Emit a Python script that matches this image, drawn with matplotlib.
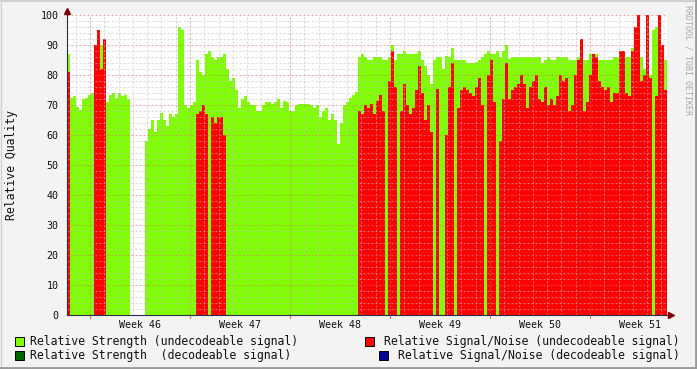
import numpy as np
import matplotlib
matplotlib.use('Agg')
import matplotlib.pyplot as plt
from matplotlib.patches import Rectangle
from matplotlib.lines import Line2D

nan = np.nan

# one sample per 3 px of the original graph, starting Saturday before week 46
strength_undecodeable = [
    87, 72.5, 73, 69.5, 68.5, 72, 72.5, 73.5, 74, 73,
    81, 90, 66, 71, 73.5, 74, 72.5, 74, 73, 73.5,
    72, nan, nan, nan, nan, nan, 58, 62, 65, 61,
    65, 67.5, 65, 63, 67, 66, 67, 96, 95, 70,
    69, 70, 71, 85, 81, 80, 87, 88, 86, 85,
    86, 86, 87, 82, 78, 79, 75, 69, 72, 73,
    71, 70, 70, 68, 68, 70, 71, 71, 70.5, 71,
    72, 69, 71.5, 71, 68, 68, 70, 70.5, 70.5, 70.5,
    70.5, 70, 69, 70, 66, 68, 69, 65, 67, 65,
    57, 64, 70, 71, 72.5, 73.5, 74.5, 86, 87, 86,
    85, 85, 86, 86, 86, 85, 85, 86, 90, 85,
    87, 87, 88, 87, 87, 87, 87, 88, 85, 83,
    80, 77, 85, 86, 86, 82, 86.5, 86, 89, 85,
    85, 85, 85, 84, 84, 84, 84.5, 85, 86, 87,
    88, 87, 87, 88, 86, 88, 90, 85.5, 86, 86,
    86, 86, 86, 86, 86, 86, 86, 86, 84, 85,
    86, 85, 85, 86, 86, 86, 86, 85, 85, 85,
    86, 86, 85, 85, 87, 87, 87, 85, 85, 85,
    85, 85, 86, 86, 87, 88, 86, 86, 89, 86,
    86, 86, 82, 80, 80, 95, 96, 81, 85, 85,
]

snr_undecodeable = [
    81, nan, nan, nan, nan, nan, nan, nan, nan, 90,
    95, 82, 92, nan, nan, nan, nan, nan, nan, nan,
    nan, nan, nan, nan, nan, nan, nan, nan, nan, nan,
    nan, nan, nan, nan, nan, nan, nan, nan, nan, nan,
    nan, nan, nan, 67, 68, 70, 67, nan, 66, 64,
    66, 66, 60, nan, nan, nan, nan, nan, nan, nan,
    nan, nan, nan, nan, nan, nan, nan, nan, nan, nan,
    nan, nan, nan, nan, nan, nan, nan, nan, nan, nan,
    nan, nan, nan, nan, nan, nan, nan, nan, nan, nan,
    nan, nan, nan, nan, nan, nan, nan, 68, 67, 70,
    69, 70.5, 67, 71.5, 73.5, 68, nan, 78, 88, 76,
    nan, 68, 77, 70, 67, 69, 75, 83, 74, 65,
    70, 61, nan, 75.5, nan, nan, 60, 76, 84, nan,
    69, 75, 76, 75, 74, 73, 76, 79, 70, nan,
    80, 85, 71, nan, 58, 72, 84, 72, 75, 76,
    77, 80, 77, 69, 76, 78, 80, 72, 71, 76,
    70, 72, 70, 73, 80, 78, 79, 68, 70, 80,
    85, 92, 68, 71, 80, 87, 86, 78, 76, 75,
    76, 71, 74, 74, 88, 88, 74, 73, 88, 96,
    100, 78, 80, 100, 79, nan, 73, 100, 90, 75,
]

# the decodeable series have no data in this period
strength_decodeable = [nan] * len(strength_undecodeable)
snr_decodeable = [nan] * len(snr_undecodeable)

week_labels = ['Week 46', 'Week 47', 'Week 48', 'Week 49', 'Week 50', 'Week 51']
y_ticks = list(range(0, 101, 10))

legend_left = ['Relative Strength (undecodeable signal)',
               'Relative Strength  (decodeable signal)']
legend_right = ['Relative Signal/Noise (undecodeable signal)',
                'Relative Signal/Noise (decodeable signal)']

GREEN = '#80FF00'
DGREEN = '#006600'
RED = '#FF0000'
BLUE = '#000099'

W, H = 697, 369
MONO = 'DejaVu Sans Mono'


def fx(x):
    return x / W


def fy(y):
    return 1 - y / H


fig = plt.figure(figsize=(W / 100, H / 100), dpi=100)
fig.patch.set_facecolor('#F3F3F3')
ax = fig.add_axes([fx(67), fy(315), 600 / W, 300 / H])
ax.set_facecolor('white')

step = 0.21  # days per sample
start = -1.61  # days before Monday of week 46
t = start + step * np.arange(len(strength_undecodeable))

series = [(strength_undecodeable, GREEN), (strength_decodeable, DGREEN),
          (snr_undecodeable, RED), (snr_decodeable, BLUE)]
for vals, col in series:
    v = np.array(vals, dtype=float)
    ok = ~np.isnan(v)
    if ok.any():
        ax.bar(t[ok], v[ok], width=step, align='edge', color=col,
               linewidth=0, antialiased=False, zorder=2)

x0, x1 = start, start + step * len(t)
ax.set_xlim(x0, x1)
ax.set_ylim(0, 100)

# grid, drawn over the areas like rrdtool does
dots = (0, (2, 2))
for y in range(2, 101, 2):
    if y % 10:
        ax.axhline(y, color='#BBBBBB', lw=0.72, ls=dots, alpha=0.6, zorder=3)
for d in range(-1, 41):
    if d % 7:
        ax.axvline(d, color='#BBBBBB', lw=0.72, ls=dots, alpha=0.6, zorder=3)
for y in range(10, 101, 10):
    ax.axhline(y, color='#E07070', lw=0.72, ls=dots, alpha=0.6, zorder=3)
for d in range(0, 36, 7):
    ax.axvline(d, color='#E07070', lw=0.72, ls=dots, alpha=0.6, zorder=3)

for s in ax.spines.values():
    s.set_visible(False)

# axes lines with arrows
ax.plot([0, 1 + 5 / 600], [0, 0], transform=ax.transAxes, color='#2C2C4D',
        lw=0.8, clip_on=False, zorder=5)
ax.plot([0, 0], [0, 1 + 5 / 300], transform=ax.transAxes, color='#2C2C4D',
        lw=0.8, clip_on=False, zorder=5)
ax.plot([1 + 4 / 600], [0], marker='>', ms=4, color='#7F0000',
        transform=ax.transAxes, clip_on=False, zorder=6)
ax.plot([0], [1 + 4 / 300], marker='^', ms=4, color='#7F0000',
        transform=ax.transAxes, clip_on=False, zorder=6)
for d in range(0, 36, 7):
    ax.plot([d, d], [0, -3 / 300], transform=ax.get_xaxis_transform(),
            color='#E07070', lw=0.8, clip_on=False)

ax.set_xticks([3.5 + 7 * k for k in range(len(week_labels))])
ax.set_xticklabels(week_labels, family=MONO, fontsize=7.2, color='#111111')
ax.set_yticks(y_ticks)
ax.set_yticklabels([str(v) for v in y_ticks], family=MONO, fontsize=7.2,
                   color='#111111')
ax.tick_params(axis='x', length=0, pad=3.5)
ax.tick_params(axis='y', length=0, pad=6)

fig.text(fx(12), fy(165), 'Relative Quality', rotation=90, ha='center',
         va='center', family=MONO, fontsize=8.3, color='#111111')
fig.text(fx(688), fy(60), 'RRDTOOL / TOBI OETIKER', rotation=270,
         ha='center', va='center', family=MONO, fontsize=6, color='#AAAAAA')

# legend
rows_y = [341, 355]
left_cols = [GREEN, DGREEN]
right_cols = [RED, BLUE]
for i, ry in enumerate(rows_y):
    fig.patches.append(Rectangle((fx(15), fy(ry + 4.5)), 9 / W, 9 / H,
                                 transform=fig.transFigure, facecolor=left_cols[i],
                                 edgecolor='black', lw=0.7))
    fig.text(fx(30), fy(ry), legend_left[i], ha='left', va='center',
             family=MONO, fontsize=8.3, color='#111111')
    fig.text(fx(680), fy(ry), legend_right[i], ha='right', va='center',
             family=MONO, fontsize=8.3, color='#111111')
right_sq = [365, 379]
for i, ry in enumerate(rows_y):
    fig.patches.append(Rectangle((fx(right_sq[i]), fy(ry + 4.5)), 9 / W, 9 / H,
                                 transform=fig.transFigure, facecolor=right_cols[i],
                                 edgecolor='black', lw=0.7))

# 3d frame around the image
fig.add_artist(Line2D([0, 1], [fy(1), fy(1)], color='#D0D0D0', lw=1.5,
                      transform=fig.transFigure))
fig.add_artist(Line2D([fx(0.5), fx(0.5)], [0, 1], color='#D0D0D0', lw=1,
                      transform=fig.transFigure))
fig.add_artist(Line2D([0, 1], [fy(367.5), fy(367.5)], color='#9A9A9A', lw=2,
                      transform=fig.transFigure))
fig.add_artist(Line2D([fx(695.5), fx(695.5)], [0, 1], color='#9A9A9A', lw=2,
                      transform=fig.transFigure))

fig.savefig('out.png', dpi=100, facecolor=fig.get_facecolor())
